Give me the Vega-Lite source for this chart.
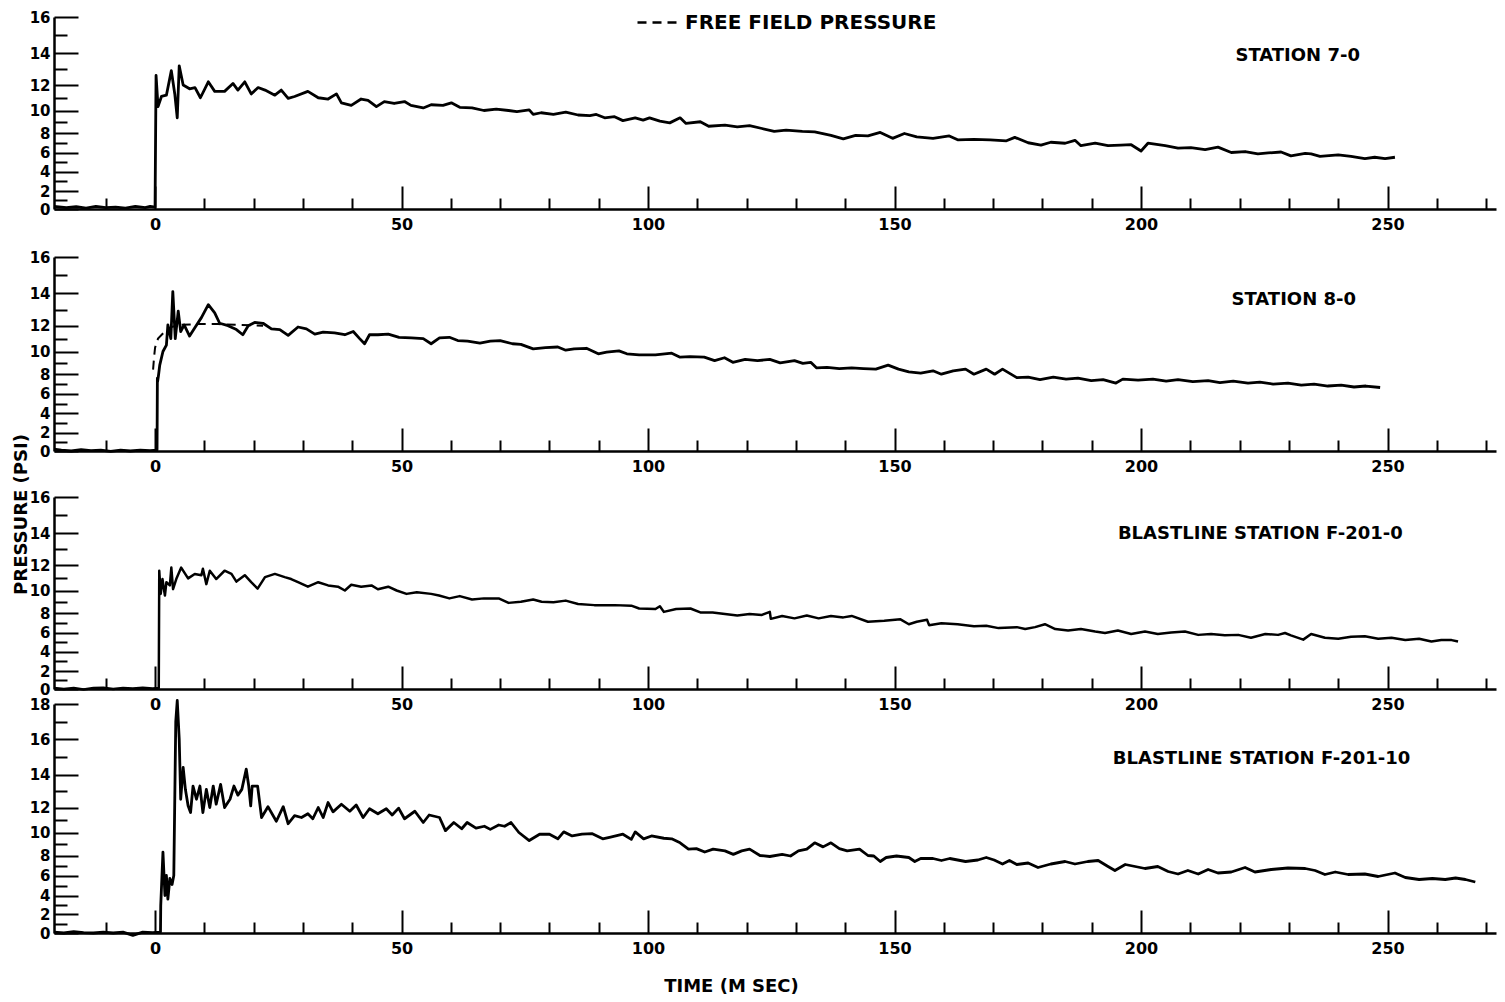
{
  "$schema": "https://vega.github.io/schema/vega-lite/v6.json",
  "background": "white",
  "padding": {"left": 11, "top": 0, "right": 5, "bottom": 5},
  "bounds": "flush",
  "spacing": 15,
  "config": {
    "view": {"stroke": null},
    "font": "DejaVu Sans",
    "axis": {
      "labelFont": "DejaVu Sans", "labelFontSize": 16, "labelFontWeight": "bold", "labelColor": "black",
      "domainColor": "black", "domainWidth": 2.5, "tickColor": "black", "tickWidth": 2,
      "grid": false, "labelOverlap": false, "labelFlush": false, "labelBound": false,
      "titleFont": "DejaVu Sans", "titleFontSize": 18, "titleFontWeight": "bold", "titleColor": "black"
    },
    "axisLeft": {"labelFontSize": 15}
  },
  "datasets": {
    "p1": [
      {"ms":-20.5,"psi":0.3},{"ms":-18,"psi":0.15},{"ms":-16,"psi":0.25},{"ms":-14,"psi":0.1},{"ms":-12,"psi":0.3},{"ms":-10,"psi":0.15},{"ms":-8,"psi":0.2},{"ms":-6,"psi":0.1},{"ms":-4,"psi":0.3},{"ms":-2,"psi":0.15},{"ms":-1,"psi":0.3},{"ms":0,"psi":0.2},
      {"ms":0.2,"psi":12.6},{"ms":0.6,"psi":10.3},{"ms":1.3,"psi":11.1},{"ms":2.3,"psi":11.2},{"ms":3.3,"psi":12.9},{"ms":4.0,"psi":11.3},{"ms":4.5,"psi":9.35},{"ms":4.9,"psi":13.2},{"ms":5.7,"psi":12.0},{"ms":7.0,"psi":11.7},{"ms":8.1,"psi":11.8},{"ms":9.2,"psi":11.0},{"ms":10.8,"psi":12.2},{"ms":12.1,"psi":11.5},{"ms":14.1,"psi":11.5},{"ms":15.8,"psi":12.1},{"ms":16.8,"psi":11.6},{"ms":18.2,"psi":12.2},{"ms":19.5,"psi":11.3},{"ms":20.9,"psi":11.8},{"ms":22.3,"psi":11.6},{"ms":24.3,"psi":11.2},{"ms":25.6,"psi":11.6},{"ms":27.0,"psi":10.95},{"ms":28.3,"psi":11.1},{"ms":31.0,"psi":11.5},{"ms":33.1,"psi":11.0},{"ms":35.1,"psi":10.9},{"ms":36.8,"psi":11.3},{"ms":37.8,"psi":10.6},{"ms":39.8,"psi":10.4},{"ms":41.8,"psi":10.9},{"ms":43.2,"psi":10.8},{"ms":44.9,"psi":10.3},{"ms":46.5,"psi":10.7},{"ms":48.5,"psi":10.55},{"ms":50.6,"psi":10.7},{"ms":51.9,"psi":10.4},{"ms":54.4,"psi":10.2},{"ms":56.0,"psi":10.45},{"ms":58.4,"psi":10.4},{"ms":60.1,"psi":10.6},{"ms":61.8,"psi":10.25},{"ms":64.3,"psi":10.2},{"ms":66.7,"psi":10.0},{"ms":69.2,"psi":10.1},{"ms":71.7,"psi":10.0},{"ms":73.4,"psi":9.9},{"ms":75.9,"psi":10.05},{"ms":76.7,"psi":9.65},{"ms":78.3,"psi":9.8},{"ms":80.8,"psi":9.65},{"ms":83.3,"psi":9.85},{"ms":85.8,"psi":9.6},{"ms":88.2,"psi":9.55},{"ms":89.5,"psi":9.65},{"ms":91.2,"psi":9.35},{"ms":93.2,"psi":9.45},{"ms":94.9,"psi":9.1},{"ms":97.4,"psi":9.35},{"ms":99.0,"psi":9.15},{"ms":100.3,"psi":9.35},{"ms":102.4,"psi":9.05},{"ms":104.4,"psi":8.9},{"ms":106.5,"psi":9.35},{"ms":107.7,"psi":8.85},{"ms":110.6,"psi":9.0},{"ms":112.3,"psi":8.6},{"ms":115.6,"psi":8.7},{"ms":118.1,"psi":8.55},{"ms":120.6,"psi":8.65},{"ms":123.1,"psi":8.4},{"ms":125.6,"psi":8.15},{"ms":128.0,"psi":8.25},{"ms":131.3,"psi":8.15},{"ms":133.8,"psi":8.1},{"ms":137.1,"psi":7.75},{"ms":139.6,"psi":7.4},{"ms":142.1,"psi":7.75},{"ms":144.6,"psi":7.7},{"ms":147.1,"psi":8.05},{"ms":149.6,"psi":7.45},{"ms":152.0,"psi":7.95},{"ms":154.5,"psi":7.6},{"ms":157.8,"psi":7.45},{"ms":161.1,"psi":7.7},{"ms":162.8,"psi":7.3},{"ms":166.1,"psi":7.35},{"ms":169.4,"psi":7.3},{"ms":172.7,"psi":7.2},{"ms":174.4,"psi":7.55},{"ms":177.1,"psi":7.0},{"ms":179.7,"psi":6.75},{"ms":181.7,"psi":7.05},{"ms":184.6,"psi":6.95},{"ms":186.6,"psi":7.25},{"ms":187.8,"psi":6.7},{"ms":190.7,"psi":6.95},{"ms":193.3,"psi":6.7},{"ms":195.9,"psi":6.75},{"ms":198.0,"psi":6.8},{"ms":200.0,"psi":6.15},{"ms":201.4,"psi":6.95},{"ms":204.9,"psi":6.7},{"ms":207.5,"psi":6.45},{"ms":210.1,"psi":6.5},{"ms":213.0,"psi":6.3},{"ms":215.6,"psi":6.55},{"ms":218.3,"psi":6.0},{"ms":221.1,"psi":6.1},{"ms":223.7,"psi":5.85},{"ms":225.8,"psi":5.95},{"ms":228.4,"psi":6.05},{"ms":230.4,"psi":5.65},{"ms":233.3,"psi":5.9},{"ms":234.5,"psi":5.85},{"ms":236.3,"psi":5.6},{"ms":237.5,"psi":5.65},{"ms":240.0,"psi":5.75},{"ms":242.6,"psi":5.6},{"ms":245.4,"psi":5.35},{"ms":247.4,"psi":5.5},{"ms":249.5,"psi":5.35},{"ms":251.5,"psi":5.5}
    ],
    "p2": [
      {"ms":-20.5,"psi":0.2},{"ms":-19,"psi":0.1},{"ms":-17,"psi":0.0},{"ms":-15,"psi":0.15},{"ms":-13,"psi":0.05},{"ms":-11,"psi":0.1},{"ms":-9,"psi":-0.05},{"ms":-7,"psi":0.1},{"ms":-5,"psi":0.0},{"ms":-3,"psi":0.1},{"ms":-1,"psi":0.05},{"ms":0.4,"psi":0.1},
      {"ms":0.47,"psi":7.6},{"ms":0.5,"psi":7.2},{"ms":0.7,"psi":7.9},{"ms":0.95,"psi":8.8},{"ms":1.6,"psi":10.0},{"ms":2.3,"psi":10.5},{"ms":2.6,"psi":12.05},{"ms":3.2,"psi":11.0},{"ms":3.6,"psi":14.1},{"ms":4.1,"psi":11.0},{"ms":4.7,"psi":12.9},{"ms":5.2,"psi":11.55},{"ms":5.9,"psi":12.05},{"ms":7.0,"psi":11.2},{"ms":8.0,"psi":11.8},{"ms":9.4,"psi":12.5},{"ms":10.8,"psi":13.3},{"ms":12.1,"psi":12.8},{"ms":13.1,"psi":12.15},{"ms":14.8,"psi":12.0},{"ms":16.5,"psi":11.7},{"ms":17.8,"psi":11.3},{"ms":18.9,"psi":12.0},{"ms":20.2,"psi":12.2},{"ms":21.9,"psi":12.15},{"ms":23.6,"psi":11.75},{"ms":25.3,"psi":11.7},{"ms":27.0,"psi":11.25},{"ms":29.0,"psi":11.9},{"ms":30.7,"psi":11.75},{"ms":32.4,"psi":11.35},{"ms":34.1,"psi":11.5},{"ms":36.4,"psi":11.45},{"ms":38.5,"psi":11.3},{"ms":40.2,"psi":11.55},{"ms":41.5,"psi":11.0},{"ms":42.5,"psi":10.6},{"ms":43.5,"psi":11.3},{"ms":45.2,"psi":11.3},{"ms":47.3,"psi":11.35},{"ms":49.5,"psi":11.1},{"ms":52.0,"psi":11.05},{"ms":54.4,"psi":11.0},{"ms":56.0,"psi":10.6},{"ms":57.7,"psi":11.05},{"ms":59.7,"psi":11.1},{"ms":61.4,"psi":10.85},{"ms":63.4,"psi":10.8},{"ms":65.9,"psi":10.65},{"ms":68.0,"psi":10.8},{"ms":70.0,"psi":10.85},{"ms":72.5,"psi":10.6},{"ms":74.2,"psi":10.55},{"ms":76.7,"psi":10.2},{"ms":79.2,"psi":10.3},{"ms":81.7,"psi":10.35},{"ms":83.3,"psi":10.1},{"ms":85.0,"psi":10.2},{"ms":87.5,"psi":10.25},{"ms":89.9,"psi":9.8},{"ms":91.6,"psi":9.95},{"ms":94.1,"psi":10.05},{"ms":95.7,"psi":9.8},{"ms":98.2,"psi":9.7},{"ms":101.5,"psi":9.7},{"ms":104.8,"psi":9.85},{"ms":106.5,"psi":9.5},{"ms":108.5,"psi":9.55},{"ms":111.4,"psi":9.5},{"ms":113.5,"psi":9.2},{"ms":115.5,"psi":9.45},{"ms":117.2,"psi":9.05},{"ms":119.7,"psi":9.3},{"ms":122.2,"psi":9.2},{"ms":124.7,"psi":9.3},{"ms":126.8,"psi":9.0},{"ms":129.7,"psi":9.2},{"ms":131.4,"psi":8.95},{"ms":133.0,"psi":9.05},{"ms":134.2,"psi":8.55},{"ms":136.3,"psi":8.6},{"ms":138.8,"psi":8.5},{"ms":141.3,"psi":8.55},{"ms":143.7,"psi":8.5},{"ms":146.2,"psi":8.45},{"ms":148.7,"psi":8.8},{"ms":150.8,"psi":8.45},{"ms":152.9,"psi":8.2},{"ms":155.3,"psi":8.1},{"ms":157.8,"psi":8.3},{"ms":159.5,"psi":8.0},{"ms":161.9,"psi":8.3},{"ms":164.4,"psi":8.45},{"ms":166.1,"psi":8.0},{"ms":168.6,"psi":8.45},{"ms":170.3,"psi":8.0},{"ms":171.9,"psi":8.45},{"ms":174.8,"psi":7.65},{"ms":177.1,"psi":7.7},{"ms":179.5,"psi":7.45},{"ms":182.2,"psi":7.7},{"ms":184.8,"psi":7.5},{"ms":187.2,"psi":7.6},{"ms":189.9,"psi":7.35},{"ms":192.3,"psi":7.45},{"ms":194.9,"psi":7.1},{"ms":196.3,"psi":7.5},{"ms":199.4,"psi":7.4},{"ms":202.4,"psi":7.5},{"ms":205.1,"psi":7.3},{"ms":207.5,"psi":7.45},{"ms":210.5,"psi":7.25},{"ms":213.6,"psi":7.35},{"ms":216.0,"psi":7.15},{"ms":218.7,"psi":7.3},{"ms":221.7,"psi":7.1},{"ms":224.1,"psi":7.2},{"ms":226.8,"psi":7.0},{"ms":229.8,"psi":7.1},{"ms":232.5,"psi":6.9},{"ms":235.1,"psi":7.0},{"ms":237.9,"psi":6.8},{"ms":240.6,"psi":6.9},{"ms":243.2,"psi":6.7},{"ms":245.6,"psi":6.8},{"ms":248.5,"psi":6.65}
    ],
    "freeField": [
      {"ms":-0.4,"psi":8.4},{"ms":-0.2,"psi":9.5},{"ms":0,"psi":10.3},{"ms":0.6,"psi":11.0},{"ms":2.0,"psi":11.55},{"ms":3.3,"psi":11.9},{"ms":5.0,"psi":12.05},{"ms":8.7,"psi":12.1},{"ms":12.8,"psi":12.1},{"ms":16.8,"psi":12.05},{"ms":21.9,"psi":12.0}
    ],
    "p3": [
      {"ms":-20.5,"psi":0.1},{"ms":-18.5,"psi":0.0},{"ms":-16.5,"psi":0.1},{"ms":-14.5,"psi":-0.05},{"ms":-12.5,"psi":0.1},{"ms":-10.5,"psi":0.15},{"ms":-8.5,"psi":0.0},{"ms":-6.5,"psi":0.1},{"ms":-4.5,"psi":0.05},{"ms":-2.5,"psi":0.15},{"ms":-0.5,"psi":0.05},{"ms":0.75,"psi":0.1},
      {"ms":0.85,"psi":11.55},{"ms":1.15,"psi":9.7},{"ms":1.5,"psi":10.9},{"ms":2.0,"psi":9.55},{"ms":2.3,"psi":10.65},{"ms":3.0,"psi":10.4},{"ms":3.3,"psi":11.8},{"ms":3.65,"psi":10.1},{"ms":4.3,"psi":10.9},{"ms":5.3,"psi":11.8},{"ms":6.7,"psi":10.95},{"ms":8.05,"psi":11.3},{"ms":9.4,"psi":11.2},{"ms":9.7,"psi":11.7},{"ms":10.4,"psi":10.5},{"ms":11.1,"psi":11.55},{"ms":12.4,"psi":10.9},{"ms":14.1,"psi":11.55},{"ms":15.5,"psi":11.3},{"ms":16.5,"psi":10.7},{"ms":18.2,"psi":11.2},{"ms":19.5,"psi":10.65},{"ms":20.8,"psi":10.15},{"ms":22.3,"psi":11.05},{"ms":24.3,"psi":11.3},{"ms":26.3,"psi":11.05},{"ms":27.6,"psi":10.9},{"ms":29.0,"psi":10.65},{"ms":31.0,"psi":10.3},{"ms":33.1,"psi":10.65},{"ms":35.1,"psi":10.4},{"ms":37.1,"psi":10.3},{"ms":38.5,"psi":10.0},{"ms":39.8,"psi":10.45},{"ms":41.8,"psi":10.3},{"ms":43.9,"psi":10.4},{"ms":45.2,"psi":10.1},{"ms":47.3,"psi":10.3},{"ms":49.0,"psi":10.0},{"ms":51.0,"psi":9.7},{"ms":53.1,"psi":9.85},{"ms":56.0,"psi":9.7},{"ms":57.6,"psi":9.55},{"ms":59.7,"psi":9.3},{"ms":61.8,"psi":9.5},{"ms":64.3,"psi":9.2},{"ms":66.7,"psi":9.3},{"ms":69.7,"psi":9.3},{"ms":71.7,"psi":8.9},{"ms":74.2,"psi":9.0},{"ms":76.7,"psi":9.2},{"ms":78.4,"psi":9.0},{"ms":80.8,"psi":8.95},{"ms":83.3,"psi":9.1},{"ms":85.8,"psi":8.8},{"ms":89.1,"psi":8.7},{"ms":93.2,"psi":8.7},{"ms":96.6,"psi":8.65},{"ms":98.2,"psi":8.4},{"ms":101.5,"psi":8.35},{"ms":102.4,"psi":8.6},{"ms":103.2,"psi":8.1},{"ms":105.7,"psi":8.35},{"ms":108.6,"psi":8.4},{"ms":110.6,"psi":8.05},{"ms":113.1,"psi":8.05},{"ms":115.6,"psi":7.9},{"ms":118.1,"psi":7.75},{"ms":120.6,"psi":7.9},{"ms":123.1,"psi":7.8},{"ms":124.7,"psi":8.1},{"ms":124.9,"psi":7.4},{"ms":127.2,"psi":7.7},{"ms":129.7,"psi":7.45},{"ms":132.2,"psi":7.75},{"ms":134.6,"psi":7.45},{"ms":137.1,"psi":7.7},{"ms":139.6,"psi":7.55},{"ms":141.3,"psi":7.7},{"ms":144.6,"psi":7.1},{"ms":147.9,"psi":7.2},{"ms":151.2,"psi":7.35},{"ms":152.9,"psi":6.85},{"ms":154.5,"psi":7.1},{"ms":156.6,"psi":7.3},{"ms":157.0,"psi":6.75},{"ms":159.5,"psi":6.95},{"ms":162.8,"psi":6.85},{"ms":166.1,"psi":6.65},{"ms":168.6,"psi":6.7},{"ms":171.1,"psi":6.45},{"ms":174.8,"psi":6.55},{"ms":176.5,"psi":6.35},{"ms":178.5,"psi":6.55},{"ms":180.5,"psi":6.85},{"ms":182.6,"psi":6.35},{"ms":185.2,"psi":6.2},{"ms":187.8,"psi":6.35},{"ms":190.7,"psi":6.1},{"ms":192.7,"psi":5.95},{"ms":195.3,"psi":6.2},{"ms":198.0,"psi":5.85},{"ms":200.8,"psi":6.1},{"ms":203.4,"psi":5.85},{"ms":206.1,"psi":6.0},{"ms":208.9,"psi":6.1},{"ms":211.6,"psi":5.75},{"ms":214.2,"psi":5.85},{"ms":217.0,"psi":5.7},{"ms":219.7,"psi":5.75},{"ms":222.3,"psi":5.45},{"ms":225.2,"psi":5.85},{"ms":227.8,"psi":5.75},{"ms":229.2,"psi":5.95},{"ms":230.4,"psi":5.7},{"ms":232.9,"psi":5.25},{"ms":234.5,"psi":5.85},{"ms":237.3,"psi":5.45},{"ms":240.0,"psi":5.35},{"ms":242.6,"psi":5.55},{"ms":245.4,"psi":5.6},{"ms":248.1,"psi":5.35},{"ms":250.8,"psi":5.45},{"ms":253.6,"psi":5.2},{"ms":256.4,"psi":5.35},{"ms":258.9,"psi":5.05},{"ms":260.9,"psi":5.2},{"ms":263.0,"psi":5.2},{"ms":264.3,"psi":5.05}
    ],
    "p4": [
      {"ms":-20.5,"psi":0.1},{"ms":-18.5,"psi":0.0},{"ms":-16.5,"psi":0.15},{"ms":-14.5,"psi":0.05},{"ms":-12.5,"psi":0.0},{"ms":-10.5,"psi":0.1},{"ms":-8.5,"psi":0.0},{"ms":-6.5,"psi":0.1},{"ms":-4.5,"psi":-0.25},{"ms":-2.5,"psi":0.1},{"ms":-0.5,"psi":0.05},{"ms":1.1,"psi":0.1},
      {"ms":1.15,"psi":2.9},{"ms":1.6,"psi":8.3},{"ms":2.0,"psi":4.0},{"ms":2.3,"psi":6.0},{"ms":2.6,"psi":3.6},{"ms":3.0,"psi":5.7},{"ms":3.45,"psi":5.1},{"ms":3.8,"psi":6.0},{"ms":4.2,"psi":17.0},{"ms":4.5,"psi":18.2},{"ms":4.9,"psi":16.0},{"ms":5.2,"psi":12.5},{"ms":5.7,"psi":14.4},{"ms":6.15,"psi":13.1},{"ms":6.7,"psi":12.1},{"ms":7.2,"psi":11.6},{"ms":7.7,"psi":13.3},{"ms":8.4,"psi":12.5},{"ms":9.1,"psi":13.3},{"ms":9.7,"psi":11.6},{"ms":10.4,"psi":13.1},{"ms":11.1,"psi":12.0},{"ms":11.8,"psi":13.3},{"ms":12.4,"psi":12.2},{"ms":13.3,"psi":13.4},{"ms":14.1,"psi":12.0},{"ms":15.2,"psi":12.5},{"ms":16.0,"psi":13.3},{"ms":16.8,"psi":12.75},{"ms":17.6,"psi":13.1},{"ms":18.5,"psi":14.3},{"ms":19.0,"psi":13.3},{"ms":19.4,"psi":12.1},{"ms":19.7,"psi":13.3},{"ms":20.8,"psi":13.3},{"ms":21.6,"psi":11.2},{"ms":22.9,"psi":12.05},{"ms":24.6,"psi":10.9},{"ms":26.0,"psi":12.05},{"ms":27.0,"psi":10.7},{"ms":28.3,"psi":11.35},{"ms":29.7,"psi":11.2},{"ms":31.0,"psi":11.5},{"ms":32.0,"psi":11.1},{"ms":33.1,"psi":12.0},{"ms":34.1,"psi":11.2},{"ms":35.1,"psi":12.3},{"ms":36.1,"psi":11.65},{"ms":37.8,"psi":12.2},{"ms":39.5,"psi":11.7},{"ms":40.8,"psi":12.15},{"ms":42.2,"psi":11.2},{"ms":43.5,"psi":11.9},{"ms":45.2,"psi":11.5},{"ms":46.9,"psi":11.9},{"ms":48.1,"psi":11.4},{"ms":49.4,"psi":11.95},{"ms":50.6,"psi":11.1},{"ms":52.7,"psi":11.7},{"ms":54.4,"psi":10.8},{"ms":55.6,"psi":11.4},{"ms":57.7,"psi":11.2},{"ms":58.9,"psi":10.15},{"ms":60.6,"psi":10.8},{"ms":62.2,"psi":10.3},{"ms":63.3,"psi":10.8},{"ms":65.1,"psi":10.35},{"ms":66.8,"psi":10.5},{"ms":68.0,"psi":10.25},{"ms":69.7,"psi":10.6},{"ms":70.9,"psi":10.5},{"ms":72.2,"psi":10.8},{"ms":73.8,"psi":10.0},{"ms":75.9,"psi":9.3},{"ms":78.0,"psi":9.85},{"ms":80.0,"psi":9.85},{"ms":81.7,"psi":9.45},{"ms":82.9,"psi":10.05},{"ms":84.6,"psi":9.7},{"ms":86.6,"psi":9.85},{"ms":88.7,"psi":9.9},{"ms":90.8,"psi":9.45},{"ms":92.4,"psi":9.6},{"ms":94.9,"psi":9.85},{"ms":96.6,"psi":9.4},{"ms":97.4,"psi":10.05},{"ms":99.1,"psi":9.45},{"ms":100.7,"psi":9.7},{"ms":103.2,"psi":9.5},{"ms":104.8,"psi":9.45},{"ms":106.5,"psi":9.1},{"ms":108.2,"psi":8.55},{"ms":109.8,"psi":8.6},{"ms":111.5,"psi":8.3},{"ms":113.2,"psi":8.55},{"ms":115.6,"psi":8.4},{"ms":117.3,"psi":8.1},{"ms":119.0,"psi":8.4},{"ms":120.6,"psi":8.55},{"ms":122.7,"psi":8.0},{"ms":124.7,"psi":7.9},{"ms":127.2,"psi":8.1},{"ms":128.9,"psi":7.95},{"ms":130.5,"psi":8.4},{"ms":132.2,"psi":8.55},{"ms":133.8,"psi":9.1},{"ms":135.5,"psi":8.75},{"ms":137.1,"psi":9.1},{"ms":138.8,"psi":8.6},{"ms":140.4,"psi":8.4},{"ms":142.9,"psi":8.55},{"ms":144.6,"psi":8.0},{"ms":145.8,"psi":7.95},{"ms":147.1,"psi":7.4},{"ms":148.3,"psi":7.8},{"ms":150.4,"psi":7.95},{"ms":152.9,"psi":7.8},{"ms":154.1,"psi":7.4},{"ms":155.3,"psi":7.7},{"ms":157.8,"psi":7.7},{"ms":159.5,"psi":7.5},{"ms":161.2,"psi":7.7},{"ms":162.8,"psi":7.55},{"ms":164.4,"psi":7.4},{"ms":166.9,"psi":7.55},{"ms":168.6,"psi":7.8},{"ms":170.2,"psi":7.55},{"ms":171.9,"psi":7.15},{"ms":173.3,"psi":7.5},{"ms":174.8,"psi":7.1},{"ms":177.1,"psi":7.25},{"ms":179.1,"psi":6.8},{"ms":181.7,"psi":7.15},{"ms":184.6,"psi":7.4},{"ms":186.6,"psi":7.15},{"ms":189.2,"psi":7.4},{"ms":191.3,"psi":7.5},{"ms":193.3,"psi":6.9},{"ms":194.7,"psi":6.5},{"ms":196.8,"psi":7.1},{"ms":198.8,"psi":6.9},{"ms":200.8,"psi":6.7},{"ms":203.4,"psi":6.9},{"ms":205.5,"psi":6.4},{"ms":207.5,"psi":6.15},{"ms":209.5,"psi":6.5},{"ms":211.6,"psi":6.15},{"ms":213.6,"psi":6.6},{"ms":215.6,"psi":6.25},{"ms":218.3,"psi":6.35},{"ms":221.1,"psi":6.8},{"ms":223.1,"psi":6.35},{"ms":226.4,"psi":6.6},{"ms":229.8,"psi":6.75},{"ms":233.3,"psi":6.7},{"ms":235.3,"psi":6.5},{"ms":237.3,"psi":6.1},{"ms":239.4,"psi":6.35},{"ms":242.0,"psi":6.1},{"ms":245.4,"psi":6.15},{"ms":248.1,"psi":5.9},{"ms":251.5,"psi":6.25},{"ms":253.6,"psi":5.8},{"ms":256.4,"psi":5.6},{"ms":259.1,"psi":5.7},{"ms":261.7,"psi":5.6},{"ms":263.8,"psi":5.75},{"ms":265.8,"psi":5.6},{"ms":267.8,"psi":5.35}
    ]
  },
  "vconcat": [
    {
      "width": 1442, "height": 192,
      "resolve": {"axis": {"y": "independent"}},
      "layer": [
        {
          "data": {"name": "p1"},
          "mark": {"type": "line", "color": "black", "strokeWidth": 2.8, "strokeJoin": "round"},
          "encoding": {
            "x": {"field": "ms", "type": "quantitative", "scale": {"domain": [-20.5, 272], "nice": false, "zero": false},
              "axis": {"values": [-10,0,10,20,30,40,50,60,70,80,90,100,110,120,130,140,150,160,170,180,190,200,210,220,230,240,250,260,270], "labelExpr": "datum.value % 50 === 0 ? datum.label : ''", "tickSize": {"condition": {"test": "datum.value % 50 === 0", "value": -23}, "value": -11}, "labelPadding": 30, "labelOverlap": false, "title": null}},
            "y": {"field": "psi", "type": "quantitative", "scale": {"domain": [0,2,4,6,8,10,12,14,16], "range": [192,174,154.5,135.5,116,93.5,68,36,0], "nice": false, "zero": false},
              "axis": {"orient": "left", "values": [0,2,4,6,8,10,12,14,16], "tickSize": -24, "labelPadding": 28, "labelOverlap": false, "title": null}}
          }
        },
        {
          "data": {"values": [{"station": "STATION 7-0"}]},
          "mark": {"type": "text", "align": "right", "baseline": "middle", "font": "DejaVu Sans", "fontSize": 18, "fontWeight": "bold", "color": "black"},
          "encoding": {
            "x": {"datum": 244.4, "type": "quantitative"},
            "y": {"datum": 13.84, "type": "quantitative", "axis": {"orient": "left", "values": [1,3,5,7,9,11,13,15], "tickSize": -13, "labels": false, "domain": false, "title": null}},
            "text": {"field": "station"}
          }
        }
      ]
    },
    {
      "width": 1442, "height": 227,
      "resolve": {"axis": {"y": "independent"}},
      "layer": [
        {
          "data": {"name": "p2"},
          "mark": {"type": "line", "color": "black", "strokeWidth": 2.8, "strokeJoin": "round"},
          "encoding": {
            "x": {"field": "ms", "type": "quantitative", "scale": {"domain": [-20.5, 272], "nice": false, "zero": false},
              "axis": {"values": [-10,0,10,20,30,40,50,60,70,80,90,100,110,120,130,140,150,160,170,180,190,200,210,220,230,240,250,260,270], "labelExpr": "datum.value % 50 === 0 ? datum.label : ''", "tickSize": {"condition": {"test": "datum.value % 50 === 0", "value": -23}, "value": -11}, "labelPadding": 30, "labelOverlap": false, "title": null}},
            "y": {"field": "psi", "type": "quantitative", "scale": {"domain": [0,2,4,6,8,10,12,14,16], "range": [227,208.8,189.1,169.9,150.2,127.5,101.7,69.4,33], "nice": false, "zero": false},
              "axis": {"orient": "left", "values": [0,2,4,6,8,10,12,14,16], "tickSize": -24, "labelPadding": 28, "labelOverlap": false, "title": null}}
          }
        },
        {
          "data": {"name": "freeField"},
          "mark": {"type": "line", "color": "black", "strokeWidth": 2, "strokeCap": "butt"},
          "encoding": {
            "x": {"field": "ms", "type": "quantitative"},
            "y": {"field": "psi", "type": "quantitative", "axis": null},
            "strokeDash": {"datum": "FREE FIELD PRESSURE", "scale": {"range": [[9, 6]]},
              "legend": {"orient": "none", "legendX": 582, "legendY": -17, "title": null, "symbolType": "stroke", "symbolSize": 1764, "symbolStrokeWidth": 2.5, "symbolStrokeColor": "black", "labelFont": "DejaVu Sans", "labelFontSize": 20, "labelFontWeight": "bold", "labelColor": "black", "labelOffset": 4, "labelLimit": 0}}
          }
        },
        {
          "data": {"values": [{"station": "STATION 8-0"}]},
          "mark": {"type": "text", "align": "right", "baseline": "middle", "font": "DejaVu Sans", "fontSize": 18, "fontWeight": "bold", "color": "black"},
          "encoding": {
            "x": {"datum": 243.6, "type": "quantitative"},
            "y": {"datum": 13.59, "type": "quantitative", "axis": {"orient": "left", "values": [1,3,5,7,9,11,13,15], "tickSize": -13, "labels": false, "domain": false, "title": null}},
            "text": {"field": "station"}
          }
        }
      ]
    },
    {
      "width": 1442, "height": 223,
      "resolve": {"axis": {"y": "independent"}},
      "layer": [
        {
          "data": {"name": "p3"},
          "mark": {"type": "line", "color": "black", "strokeWidth": 2.5, "strokeJoin": "round"},
          "encoding": {
            "x": {"field": "ms", "type": "quantitative", "scale": {"domain": [-20.5, 272], "nice": false, "zero": false},
              "axis": {"values": [-10,0,10,20,30,40,50,60,70,80,90,100,110,120,130,140,150,160,170,180,190,200,210,220,230,240,250,260,270], "labelExpr": "datum.value % 50 === 0 ? datum.label : ''", "tickSize": {"condition": {"test": "datum.value % 50 === 0", "value": -23}, "value": -11}, "labelPadding": 30, "labelOverlap": false, "title": null}},
            "y": {"field": "psi", "type": "quantitative", "scale": {"domain": [0,2,4,6,8,10,12,14,16], "range": [223,205,185.5,166.5,147,124.5,99,67,31], "nice": false, "zero": false},
              "axis": {"orient": "left", "values": [0,2,4,6,8,10,12,14,16], "tickSize": -24, "labelPadding": 28, "labelOverlap": false,
                "title": "PRESSURE (PSI)", "titleX": -28, "titleY": 48, "titleBaseline": "alphabetic"}}
          }
        },
        {
          "data": {"values": [{"station": "BLASTLINE STATION F-201-0"}]},
          "mark": {"type": "text", "align": "right", "baseline": "middle", "font": "DejaVu Sans", "fontSize": 18, "fontWeight": "bold", "color": "black"},
          "encoding": {
            "x": {"datum": 253.1, "type": "quantitative"},
            "y": {"datum": 13.94, "type": "quantitative", "axis": {"orient": "left", "values": [1,3,5,7,9,11,13,15], "tickSize": -13, "labels": false, "domain": false, "title": null}},
            "text": {"field": "station"}
          }
        }
      ]
    },
    {
      "width": 1442, "height": 229,
      "resolve": {"axis": {"y": "independent"}},
      "layer": [
        {
          "data": {"name": "p4"},
          "mark": {"type": "line", "color": "black", "strokeWidth": 2.8, "strokeJoin": "round"},
          "encoding": {
            "x": {"field": "ms", "type": "quantitative", "scale": {"domain": [-20.5, 272], "nice": false, "zero": false},
              "axis": {"values": [-10,0,10,20,30,40,50,60,70,80,90,100,110,120,130,140,150,160,170,180,190,200,210,220,230,240,250,260,270], "labelExpr": "datum.value % 50 === 0 ? datum.label : ''", "tickSize": {"condition": {"test": "datum.value % 50 === 0", "value": -23}, "value": -11}, "labelPadding": 30, "labelOverlap": false,
                "title": "TIME (M SEC)", "titleX": 677, "titleY": 53, "titleBaseline": "middle"}},
            "y": {"field": "psi", "type": "quantitative", "scale": {"domain": [0,2,4,6,8,10,12,14,16,18], "range": [229,210,191.5,171.5,151.5,128.5,103.5,70.5,35,0], "nice": false, "zero": false},
              "axis": {"orient": "left", "values": [0,2,4,6,8,10,12,14,16,18], "tickSize": -24, "labelPadding": 28, "labelOverlap": false, "title": null}}
          }
        },
        {
          "data": {"values": [{"station": "BLASTLINE STATION F-201-10"}]},
          "mark": {"type": "text", "align": "right", "baseline": "middle", "font": "DejaVu Sans", "fontSize": 18, "fontWeight": "bold", "color": "black"},
          "encoding": {
            "x": {"datum": 254.6, "type": "quantitative"},
            "y": {"datum": 14.87, "type": "quantitative", "axis": {"orient": "left", "values": [1,3,5,7,9,11,13,15,17], "tickSize": -13, "labels": false, "domain": false, "title": null}},
            "text": {"field": "station"}
          }
        }
      ]
    }
  ]
}
